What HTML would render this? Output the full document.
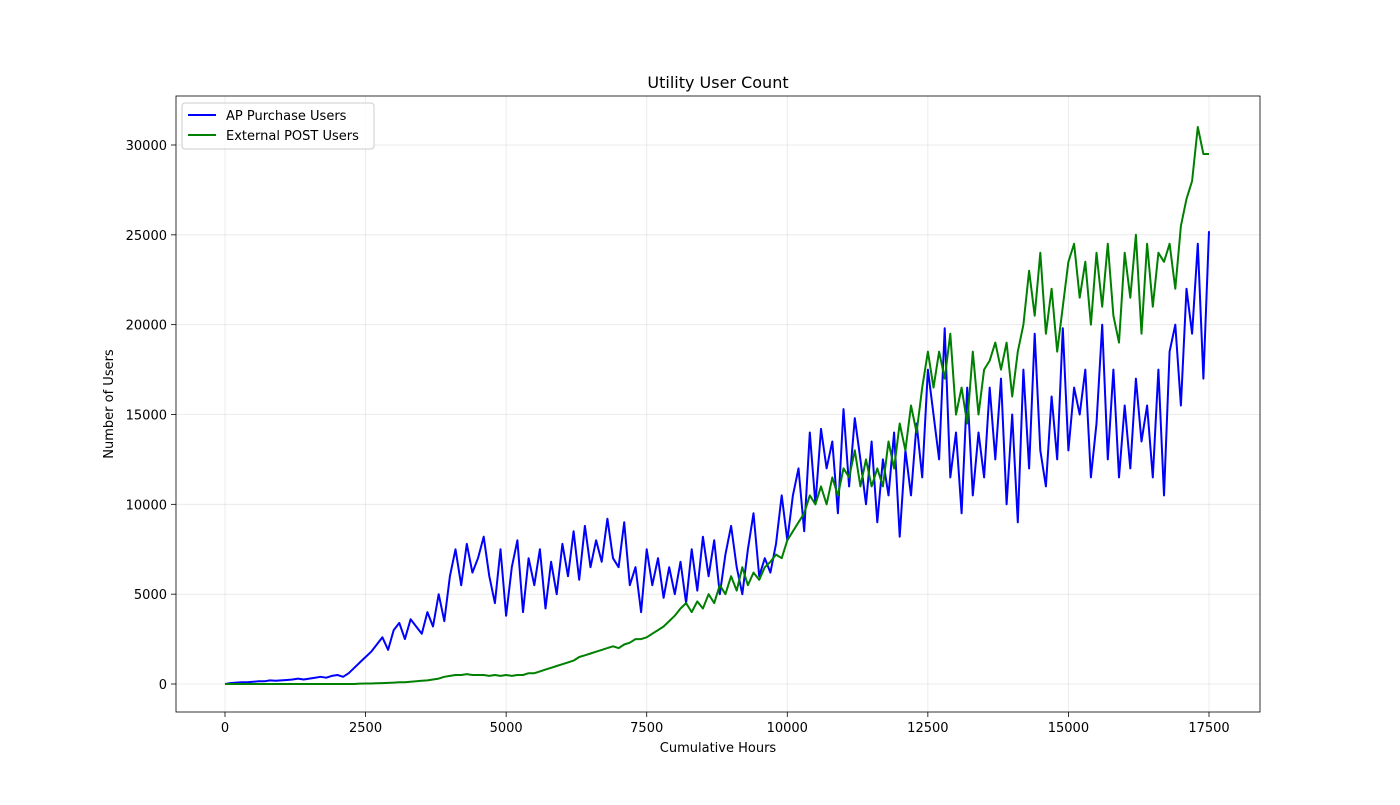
<!DOCTYPE html>
<html><head><meta charset="utf-8"><style>
body{margin:0;background:#fff;}
svg text{font-family:"DejaVu Sans","Liberation Sans",sans-serif;fill:#000;}
</style></head><body>
<svg id="chart" width="1400" height="800" xmlns="http://www.w3.org/2000/svg">
<rect width="1400" height="800" fill="#fff"/>
<g id="grid"></g><g id="series"></g><g id="axes"></g>
</svg>
<script>
const xTicks=[0,2500,5000,7500,10000,12500,15000,17500];
const yTicks=[0,5000,10000,15000,20000,25000,30000];
const blueK=[0,0.05,0.08,0.1,0.1,0.12,0.15,0.15,0.2,0.18,0.2,0.22,0.25,0.3,0.25,0.3,
0.35,0.4,0.35,0.45,0.5,0.4,0.6,0.9,1.2,1.5,
1.8,2.2,2.6,1.9,3.0,3.4,2.5,3.6,3.2,2.8,
4.0,3.2,5.0,3.5,6.0,7.5,5.5,7.8,6.2,7.0,
8.2,6.0,4.5,7.5,3.8,6.5,8.0,4.0,7.0,5.5,
7.5,4.2,6.8,5.0,7.8,6.0,8.5,5.8,8.8,6.5,
8.0,6.8,9.2,7.0,6.5,9.0,5.5,6.5,4.0,7.5,
5.5,7.0,4.8,6.5,5.0,6.8,4.5,7.5,5.2,8.2,
6.0,8.0,5.0,7.2,8.8,6.5,5.0,7.5,9.5,6.0,
7.0,6.2,7.8,10.5,8.0,10.5,12.0,8.5,14.0,10.0,
14.2,12.0,13.5,9.5,15.3,11.0,14.8,12.5,10.0,13.5,
9.0,12.5,10.5,14.0,8.2,13.0,10.5,14.5,11.5,17.5,
15.0,12.5,19.8,11.5,14.0,9.5,16.5,10.5,14.0,11.5,
16.5,12.5,17.0,10.0,15.0,9.0,17.5,12.0,19.5,13.0,
11.0,16.0,12.5,19.8,13.0,16.5,15.0,17.5,11.5,14.5,
20.0,12.5,17.5,11.5,15.5,12.0,17.0,13.5,15.5,11.5,
17.5,10.5,18.5,20.0,15.5,22.0,19.5,24.5,17.0,25.2];
const greenK=[0,0,0,0,0,0,0,0,0,0,0,0,0,0,0,0,
0,0,0,0,0,0,0,0,0.02,0.03,
0.03,0.04,0.05,0.06,0.08,0.1,0.1,0.12,0.15,0.18,
0.2,0.25,0.3,0.4,0.45,0.5,0.5,0.55,0.5,0.5,
0.5,0.45,0.5,0.45,0.5,0.45,0.5,0.5,0.6,0.6,
0.7,0.8,0.9,1.0,1.1,1.2,1.3,1.5,1.6,1.7,
1.8,1.9,2.0,2.1,2.0,2.2,2.3,2.5,2.5,2.6,
2.8,3.0,3.2,3.5,3.8,4.2,4.5,4.0,4.6,4.2,
5.0,4.5,5.5,5.0,6.0,5.2,6.5,5.5,6.2,5.8,
6.5,6.8,7.2,7.0,8.0,8.5,9.0,9.5,10.5,10.0,
11.0,10.0,11.5,10.5,12.0,11.5,13.0,11.0,12.5,11.0,
12.0,11.0,13.5,12.0,14.5,13.0,15.5,14.0,16.5,18.5,
16.5,18.5,17.0,19.5,15.0,16.5,14.5,18.5,15.0,17.5,
18.0,19.0,17.5,19.0,16.0,18.5,20.0,23.0,20.5,24.0,
19.5,22.0,18.5,21.0,23.5,24.5,21.5,23.5,20.0,24.0,
21.0,24.5,20.5,19.0,24.0,21.5,25.0,19.5,24.5,21.0,
24.0,23.5,24.5,22.0,25.5,27.0,28.0,31.0,29.5,29.5];
const hourStep=100;

const L=176,R=1260,T=96,B=712;
const xs=v=>225+v*(984/17500);
const ys=v=>684-v*(539/30000);
const NS="http://www.w3.org/2000/svg";
function mk(tag,attrs,parent){const e=document.createElementNS(NS,tag);for(const k in attrs)e.setAttribute(k,attrs[k]);parent.appendChild(e);return e;}
const grid=document.getElementById('grid'),series=document.getElementById('series'),axes=document.getElementById('axes');
xTicks.forEach(t=>{
 const g=mk('line',{x1:xs(t),x2:xs(t),y1:T,y2:B,stroke:'#b0b0b0','stroke-opacity':0.3,'stroke-width':0.8},grid);
 
 const tk=mk('line',{x1:xs(t),x2:xs(t),y1:B,y2:B+5,stroke:'#000','stroke-width':0.8},axes);
 
 const tx=mk('text',{x:xs(t),y:B+20,'text-anchor':'middle','font-size':13},axes);tx.textContent=t;
 
});
yTicks.forEach(t=>{
 const g=mk('line',{x1:L,x2:R,y1:ys(t),y2:ys(t),stroke:'#b0b0b0','stroke-opacity':0.3,'stroke-width':0.8},grid);
 
 const tk=mk('line',{x1:L-5,x2:L,y1:ys(t),y2:ys(t),stroke:'#000','stroke-width':0.8},axes);
 
 const tx=mk('text',{x:L-9,y:ys(t)+5,'text-anchor':'end','font-size':13},axes);tx.textContent=t;
 
});
function line(arr,color,name){
 const d=arr.map((v,i)=>(i?'L':'M')+xs(i*hourStep).toFixed(1)+','+ys(v*1000).toFixed(1)).join('');
 const p=mk('path',{d:d,fill:'none',stroke:color,'stroke-width':2,'stroke-linejoin':'round'},series);
 
}
line(blueK,'#0000ff','ap-purchase-users-line');
line(greenK,'#008000','external-post-users-line');
const fr=mk('rect',{x:L,y:T,width:R-L,height:B-T,fill:'none',stroke:'#000','stroke-width':0.8},axes);

function txt(s,a,name){const e=mk('text',a,axes);e.textContent=s;return e;}
txt('Utility User Count',{x:718,y:88,'text-anchor':'middle','font-size':16},'chart-title');
txt('Cumulative Hours',{x:718,y:752,'text-anchor':'middle','font-size':13},'x-axis-title');
txt('Number of Users',{x:113,y:404,'text-anchor':'middle','font-size':13,transform:'rotate(-90 113 404)'},'y-axis-title');
const lg=mk('rect',{x:182,y:103,width:192,height:46,rx:3,fill:'#fff','fill-opacity':0.8,stroke:'#ccc'},axes);

const l1=mk('line',{x1:188,x2:216,y1:115,y2:115,stroke:'#0000ff','stroke-width':2},axes);

txt('AP Purchase Users',{x:226,y:120,'font-size':13},'legend-entry-ap');
const l2=mk('line',{x1:188,x2:216,y1:135,y2:135,stroke:'#008000','stroke-width':2},axes);

txt('External POST Users',{x:226,y:140,'font-size':13},'legend-entry-external');
</script>
</body></html>
